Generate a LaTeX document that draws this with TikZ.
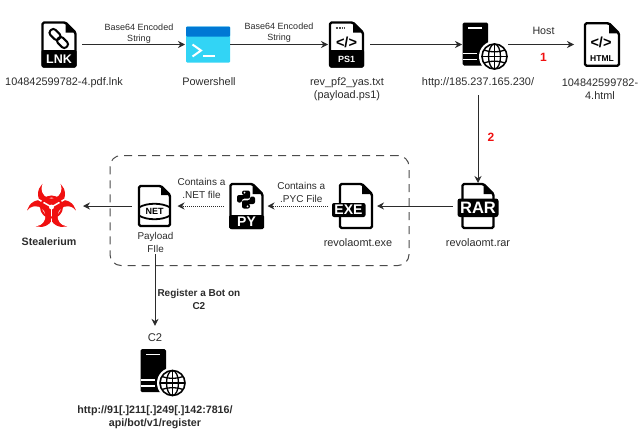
\documentclass[tikz,border=0pt]{standalone}
\usepackage{fontspec}
\setmainfont{Liberation Sans}
\usetikzlibrary{arrows.meta}

\definecolor{inkgray}{HTML}{2B2B2B}
\definecolor{psblue}{HTML}{0078D4}
\definecolor{pscyan}{HTML}{32D4F5}
\definecolor{hazred}{HTML}{F01010}

\tikzstyle{icon} = [rectangle, inner sep=0pt, outer sep=0pt, minimum height=44pt]
\tikzstyle{lbl} = [inner sep=0pt, text=inkgray, align=center, font=\fontsize{10.9}{13.2}\selectfont]
\tikzstyle{small} = [inner sep=1pt, text=inkgray, align=center, font=\fontsize{9}{11}\selectfont]
\tikzstyle{boldlbl} = [inner sep=0pt, text=inkgray, align=center, font=\fontsize{10.7}{13}\selectfont\bfseries]
\tikzstyle{step1} = [inner sep=0pt, text=hazred, font=\fontsize{12}{14}\selectfont\bfseries]
\tikzstyle{tag} = [inner sep=0pt, font=\bfseries]
\tikzstyle{arrow} = [inkgray, line width=1pt, -{Stealth[length=7pt,width=7pt]}]
\tikzstyle{dotarrow} = [arrow, densely dotted]
\tikzstyle{docline} = [black, line width=2.4pt, rounded corners=1.5pt, line join=round]
\tikzstyle{dashbox} = [rectangle, draw=inkgray!85, line width=1pt, rounded corners=11pt, dash pattern=on 8pt off 6pt, minimum width=299pt, minimum height=110pt, inner sep=0pt]

\tikzset{
  pics/docshape/.style n args={3}{code={
    \draw [docline, fill=white] ({-#1/2},{-#2/2}) -- ({#1/2-#3},{-#2/2}) -- ({#1/2},{-#2/2+#3}) -- ({#1/2},{#2/2}) -- ({-#1/2},{#2/2}) -- cycle;
    \fill [black] ({#1/2-#3},{-#2/2}) -- ({#1/2},{-#2/2+#3}) -- ({#1/2-#3},{-#2/2+#3}) -- cycle;
  }},
  pics/lnkicon/.style={code={
    \pic {docshape={33}{44}{10}};
    \fill [black, rounded corners=1.5pt] (-17.5,5.5) rectangle (17.5,23);
    \node (lnktag) [tag, white, font=\fontsize{12.5}{14}\selectfont\bfseries] at (0,14.5) {LNK};
    \draw [black, line width=2pt, rounded corners=3pt, shift={(-4,-10)}, rotate=45] (-3.6,-6) rectangle (3.6,6);
    \draw [black, line width=2pt, rounded corners=3pt, shift={(3.5,-2)}, rotate=45] (-3.6,-6) rectangle (3.6,6);
  }},
  pics/shellicon/.style={code={
    \fill [pscyan, rounded corners=1pt] (-22,-18) rectangle (22,18);
    \fill [psblue, rounded corners=1pt] (-22,-18) rectangle (22,-8);
    \draw [white, line width=2pt] (-15.5,0) -- (-7,6) -- (-15.5,12);
    \draw [white, line width=2pt] (-5,11.5) -- (7,11.5);
  }},
  pics/ps1icon/.style={code={
    \pic {docshape={33}{44}{10}};
    \fill [black, rounded corners=1.5pt] (-17.5,5.5) rectangle (17.5,23);
    \node (ps1tag) [tag, white, font=\fontsize{9}{11}\selectfont\bfseries] at (0,15) {PS1};
    \node (ps1code) [tag, font=\fontsize{14.5}{16}\selectfont\bfseries] at (0,-2.5) {</>};
    \draw [black!70, line width=1.3pt, dash pattern=on 1pt off .6pt] (-11,-16.5) -- (-2,-16.5);
  }},
  pics/htmlicon/.style={code={
    \pic {docshape={34}{42.5}{10}};
    \node (htmlcode) [tag, font=\fontsize{14.5}{16}\selectfont\bfseries] at (-1,-2.5) {</>};
    \node (htmltag) [tag, font=\fontsize{8.5}{10}\selectfont\bfseries] at (0,14.5) {HTML};
  }},
  pics/servericon/.style={code={
    \fill [black, rounded corners=1.5pt] (-22.5,-22) rectangle (3,21);
    \draw [white, line width=1.2pt] (-17,-16.5) -- (-3,-16.5);
    \draw [white, line width=1.2pt] (-22.5,9) -- (-8,9);
    \draw [white, line width=1.2pt] (-22.5,15) -- (-8,15);
    \fill [white] (9.5,12) circle (15.5);
    \draw [black, line width=1.6pt] (9.5,12) circle (12.5);
    \draw [black, line width=1.3pt] (9.5,12) ellipse (6 and 12.5);
    \draw [black, line width=1.3pt] (9.5,-.5) -- (9.5,24.5);
    \draw [black, line width=1.3pt] (-3,12) -- (22,12);
    \draw [black, line width=1.3pt] (-1.2,5.5) .. controls (5,8) and (14,8) .. (20.2,5.5);
    \draw [black, line width=1.3pt] (-1.2,18.5) .. controls (5,16) and (14,16) .. (20.2,18.5);
  }},
  pics/raricon/.style={code={
    \pic {docshape={31}{44}{10}};
    \fill [black, rounded corners=2.5pt] (-20.5,-7.5) rectangle (20.5,11);
    \node (rartag) [tag, white, font=\fontsize{16.5}{18}\selectfont\bfseries] at (0,2) {RAR};
  }},
  pics/exeicon/.style={code={
    \pic {docshape={32}{44}{10}};
    \fill [black, rounded corners=2pt] (-24,-3) rectangle (9.5,11);
    \node (exetag) [tag, white, font=\fontsize{14}{16}\selectfont\bfseries] at (-7.5,4) {EXE};
  }},
  pics/pyicon/.style={code={
    \pic {docshape={32}{44}{10}};
    \fill [black, rounded corners=1.5pt] (-17.5,9) rectangle (17.5,23);
    \node (pytag) [tag, white, font=\fontsize{14}{16}\selectfont\bfseries] at (0,16) {PY};
    \begin{scope}[shift={(-.5,-6.5)}]
      \fill [black, rounded corners=2pt] (-4,-9) -- (4,-9) -- (4,-.8) -- (-4,-.8) -- (-4,3) -- (-9,3) -- (-9,-4.5) -- (1,-4.5) -- (-4,-4.5) -- cycle;
      \fill [black, rounded corners=2pt, rotate=180] (-4,-9) -- (4,-9) -- (4,-.8) -- (-4,-.8) -- (-4,3) -- (-9,3) -- (-9,-4.5) -- (1,-4.5) -- (-4,-4.5) -- cycle;
      \fill [white] (-1.5,-6.8) circle (1) (1.5,6.8) circle (1);
    \end{scope}
  }},
  pics/neticon/.style={code={
    \pic {docshape={31}{40}{9}};
    \draw [black, line width=1.8pt] (-15.5,1.5) .. controls (-8,-3.5) and (8,-3.5) .. (15.5,1.5);
    \draw [black, line width=1.8pt] (-15.5,9.5) .. controls (-8,14.5) and (8,14.5) .. (15.5,9.5);
    \node (nettag) [tag, font=\fontsize{9}{11}\selectfont\bfseries] at (0,5.5) {NET};
  }},
  pics/hazardicon/.style={code={
    \foreach \a in {0,120,240} {
      \begin{scope}[rotate=\a]
        \fill [hazred] (0,-13) circle (13.5);
        \fill [white] (0,-18.5) circle (10);
      \end{scope}
    }
    \foreach \a in {60,180,300} {
      \begin{scope}[rotate=\a]
        \draw [white, line width=1.5pt] (0,0) -- (0,-15);
      \end{scope}
    }
    \draw [hazred, line width=2pt] (0,0) circle (10.5);
    \fill [white] (0,0) circle (2.5);
  }}
}

\begin{document}
\begin{tikzpicture}[x=1pt, y=-1pt, node distance=100pt]
\useasboundingbox (0,0) rectangle (644,431);

\node (group) [dashbox] at (259.5,210.5) {};

% top row
\node (lnk) [icon, minimum width=46pt] at (59,44.5) {};
\node (shell) [icon, minimum width=44pt, right of=lnk, xshift=49pt] {};
\node (ps1) [icon, minimum width=37pt, right of=shell, xshift=38.5pt] {};
\node (server) [icon, minimum width=46pt, right of=ps1, xshift=38.5pt] {};
\node (html) [icon, minimum width=46pt, right of=server, xshift=17pt] {};

% second row
\node (rar) [icon, minimum width=46pt, minimum height=46pt, below of=server, xshift=-7pt, yshift=-61.5pt] {};
\node (exe) [icon, minimum width=42pt, left of=rar, xshift=-22pt] {};
\node (py) [icon, minimum width=42pt, left of=exe, xshift=-9.5pt] {};
\node (net) [icon, minimum width=46pt, left of=py, xshift=8pt] {};
\node (hazard) [icon, minimum width=60pt, left of=net, xshift=-2.5pt] {};

\pic at (lnk) {lnkicon};
\pic at (shell) {shellicon};
\pic at (ps1) {ps1icon};
\pic at (server) {servericon};
\pic at (html) {htmlicon};
\pic at (rar) {raricon};
\pic at (exe) {exeicon};
\pic at (py) {pyicon};
\pic at (net) {neticon};
\pic at ([xshift=-.5pt, yshift=-1pt]hazard.center) {hazardicon};

% labels
\node (lnktext) [lbl, node distance=38.5pt, below of=lnk, xshift=5pt] {104842599782-4.pdf.lnk};
\node (shelltext) [lbl, node distance=37pt, below of=shell, xshift=1pt] {Powershell};
\node (ps1text) [lbl, node distance=45pt, below of=ps1, xshift=.5pt] {rev\_pf2\_yas.txt\\(payload.ps1)};
\node (urltext) [lbl, node distance=38.5pt, below of=server, xshift=-7pt] {http://185.237.165.230/};
\node (htmltext) [lbl, node distance=45pt, below of=html, xshift=-2pt] {104842599782-\\4.html};
\node (rartext) [lbl, node distance=37pt, below of=rar] {revolaomt.rar};
\node (exetext) [lbl, node distance=37pt, below of=exe, xshift=2pt] {revolaomt.exe};
\node (nettext) [lbl, font=\fontsize{9.9}{13}\selectfont, node distance=36pt, below of=net, xshift=1pt] {Payload\\FIle};
\node (hazardtext) [boldlbl, node distance=35.5pt, below of=hazard, xshift=-3pt] {Stealerium};
\node (c2text) [lbl, font=\fontsize{11.2}{13}\selectfont] at (155,338) {C2};
\node (c2) [icon, minimum width=46pt, right of=c2text, node distance=8pt, yshift=-33pt] {};
\pic at (c2) {servericon};
\node (c2url) [boldlbl, node distance=79pt, below of=c2text] {http://91[.]211[.]249[.]142:7816/\\api/bot/v1/register};

% connectors
\draw [arrow, shorten >=1pt] (lnk) -- node (b64a) [small, above, xshift=5pt] {Base64 Encoded\\String} (shell);
\draw [arrow] (shell) -- node (b64b) [small, above, xshift=0pt, yshift=.5pt] {Base64 Encoded\\String} (ps1);
\draw [arrow, shorten <=5pt] (ps1) -- (server);
\draw [arrow, shorten >=5pt] (server) -- node (hosttext) [lbl, font=\fontsize{10.7}{13}\selectfont, above, yshift=9pt] {Host} node (one) [step1, below, yshift=-8pt] {1} (html);
\draw [arrow, shorten <=7pt] (urltext) -- node (two) [step1, right, xshift=9pt, yshift=-2pt] {2} (rar);
\draw [arrow, shorten <=2pt] (rar.west) -- (exe.east);
\draw [dotarrow, shorten <=7pt] (exe) -- node (pyctext) [lbl, font=\fontsize{10}{13}\selectfont, above, yshift=2.5pt] {Contains a\\.PYC File} (py);
\draw [dotarrow, shorten <=2pt] (py) -- node (nettextb) [lbl, font=\fontsize{10}{13}\selectfont, above, yshift=6.5pt] {Contains a\\.NET file} (net);
\draw [arrow, shorten >=1pt] (net) -- (hazard);
\draw [arrow, shorten <=2pt, shorten >=8pt] (nettext.south -| c2text) -- node (regtext) [boldlbl, font=\fontsize{10}{13}\selectfont\bfseries, right, xshift=2pt, yshift=-6pt] {Register a Bot on\\C2} (c2text);
\end{tikzpicture}
\end{document}
